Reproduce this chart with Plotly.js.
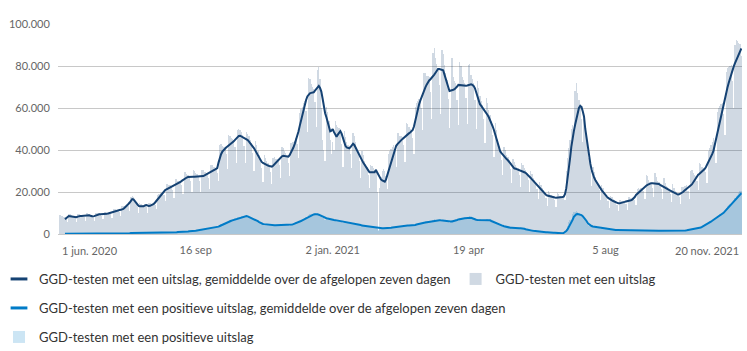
<!DOCTYPE html>
<html>
<head>
<meta charset="utf-8">
<script src="https://cdn.plot.ly/plotly-3.0.1.min.js"></script>
<style>
html,body{margin:0;padding:0;background:#ffffff;}
#chart{width:747px;height:351px;}
</style>
</head>
<body>
<div id="chart"></div>
<script>
// ---- data (values in thousands of tests per day, one per day from START_DATE) ----
const START_DATE = '2020-06-01';

const totalDailyK = [
9.0,8.8,8.5,8.3,8.2,7.4,5.9, 9.6,9.4,8.9,8.5,8.3,7.4,5.9, 9.3,9.5,9.1,8.9,8.9,8.0,6.4, 9.9,9.8,9.4,9.0,8.6,7.6,6.3,
9.9,9.9,9.8,9.8,9.6,8.6,7.0, 10.6,10.5,10.2,10.2,10.2,9.5,7.8, 12.0,12.0,11.7,11.5,11.5,10.5,8.5, 13.1,13.2,13.3,13.5,13.9,13.2,11.1,
17.7,18.3,17.5,16.2,14.9,12.8,9.9, 14.8,14.4,13.8,13.7,13.9,12.7,10.1, 14.9,14.7,14.4,14.4,14.6,13.8,11.7, 18.6,19.1,19.3,19.6,19.9,18.6,15.5,
23.9,23.8,23.2,23.1,23.0,21.0,17.1, 26.1,26.0,25.4,25.4,25.3,23.3,19.1, 29.3,29.3,28.5,28.3,27.8,25.1,20.2, 30.6,30.0,28.9,28.4,27.8,25.1,20.2,
30.6,30.4,29.6,29.3,29.1,26.5,21.5, 32.9,32.8,32.0,31.8,31.6,28.9,25.2, 42.5,42.8,42.0,41.6,41.4,37.9,30.9, 47.2,46.8,45.6,45.3,45.0,41.2,33.7,
49.5,49.8,49.6,48.4,47.1,42.1,33.6, 48.5,47.5,46.6,45.0,43.4,38.4,30.2, 44.5,42.4,39.5,37.5,35.7,31.6,25.0, 37.4,36.4,34.9,33.9,33.0,29.6,23.8,
36.4,36.5,35.9,35.9,35.9,32.9,26.9, 41.4,40.9,39.3,38.5,37.6,33.9,27.8, 43.1,43.8,43.7,44.5,45.5,42.8,36.1, 57.7,59.7,60.4,62.2,63.2,58.7,48.5,
74.5,73.7,71.2,70.0,68.9,62.8,51.1, 78.3,79.5,73.7,60.0,45.0,40.0,35.0, 60.5,58.0,54.0,45.0,38.0,44.0,40.0, 54.0,52.0,51.0,50.5,49.5,43.0,32.0,
49.1,46.2,43.7,42.5,41.6,38.1,31.3, 48.2,46.6,43.6,41.3,39.1,34.6,26.9, 39.4,37.4,34.9,33.3,31.7,27.9,21.8, 32.9,32.3,31.2,30.6,31.1,20.0,1.5,
22.0,27.0,30.0,31.0,30.0,27.5,21.5, 38.0,39.5,40.5,41.5,42.5,39.5,32.0, 47.9,48.0,46.7,46.5,46.2,42.2,34.5, 52.8,52.3,50.8,50.2,49.7,45.5,37.9,
60.5,62.5,63.4,64.2,64.8,60.1,49.6, 76.6,76.8,75.4,75.4,74.6,67.8,55.0, 86.0,88.5,84.0,81.0,79.0,71.0,57.0, 87.8,85.8,80.6,76.5,73.2,64.4,50.4,
60.0,84.0,75.0,73.0,72.0,64.0,52.0, 82.0,80.0,75.0,73.5,72.1,65.0,52.3, 80.5,81.0,75.6,73.8,71.9,63.9,49.8, 73.0,69.5,65.5,63.4,61.4,54.7,43.4,
64.6,62.4,58.9,56.5,53.9,47.2,36.6, 53.0,49.4,45.1,41.9,40.1,35.4,27.9, 41.3,39.9,37.8,36.5,35.2,30.9,24.3, 35.8,34.4,33.0,32.1,31.3,28.1,22.4,
33.6,32.7,31.2,30.3,29.2,25.7,20.2, 29.9,28.6,26.8,25.6,24.4,21.3,16.7, 24.6,23.5,21.9,20.9,19.8,17.2,13.5, 20.3,19.7,18.8,18.3,17.9,16.0,12.8,
19.4,19.0,18.3,18.2,18.0,17.5,16.0, 30.0,36.0,41.0,45.0,50.0,52.0,46.0, 68.0,72.0,67.0,64.0,62.0,55.0,44.0, 55.0,50.0,45.0,40.0,36.0,30.0,23.0,
31.7,29.5,27.1,25.5,24.0,20.8,16.1, 23.3,22.0,20.2,19.1,18.2,15.8,12.4, 18.3,17.6,16.6,16.0,15.5,13.7,10.8, 16.4,16.2,15.7,15.6,15.6,14.3,11.5,
17.7,17.5,17.1,17.1,17.2,16.2,13.8, 21.5,21.8,21.6,21.8,22.0,20.3,16.7, 28.0,27.5,25.5,25.0,24.5,22.0,17.5, 29.0,27.0,25.4,24.8,23.9,21.2,16.7,
26.5,24.5,23.0,22.3,21.4,19.0,15.1, 24.0,22.0,20.6,19.8,19.2,17.4,14.2, 22.5,22.5,22.8,23.0,23.2,20.5,16.8, 30.0,30.5,29.0,28.0,27.6,25.4,20.9,
34.0,33.5,32.0,31.3,31.5,29.3,24.4, 39.5,41.0,42.5,44.0,45.5,41.0,34.0, 58.0,60.0,61.0,62.0,62.5,57.0,47.0, 77.0,79.0,79.5,80.0,80.5,73.0,60.0,
90.0,92.5,92.0,91.0,90.5,85.0
];

const totalAvgK = [
null,null,null,null,7.0,7.6,8.3, 8.6,8.5,8.4,8.2,8.1,8.0,8.0, 8.3,8.6,8.6,8.6,8.7,8.7,8.7, 8.8,8.9,8.9,8.7,8.4,8.3,8.5,
8.8,9.0,9.2,9.4,9.4,9.4,9.5, 9.5,9.5,9.6,9.8,10.0,10.3,10.5, 10.7,10.9,11.0,11.1,11.3,11.4,11.5, 11.7,12.0,12.5,13.0,13.6,14.3,15.0,
15.8,16.6,16.5,15.6,14.6,13.9,13.4, 13.2,13.1,13.0,13.2,13.6,13.8,13.6, 13.3,13.4,13.6,13.8,14.3,15.0,15.8, 16.6,17.4,18.2,18.8,19.5,20.2,20.9,
21.3,21.6,21.9,22.2,22.5,22.8,23.1, 23.3,23.6,24.0,24.4,24.8,25.3,25.8, 26.2,26.6,26.9,27.2,27.3,27.3,27.3, 27.3,27.3,27.3,27.3,27.3,27.3,27.3,
27.3,27.6,27.9,28.2,28.5,28.8,29.1, 29.4,29.8,30.2,30.6,31.0,31.4,34.0, 36.5,38.0,39.2,40.0,40.6,41.2,41.7, 42.1,42.5,43.0,43.6,44.1,44.8,45.5,
46.1,46.7,46.8,46.5,46.2,45.8,45.4, 45.1,44.7,44.0,43.3,42.5,41.7,40.8, 39.7,38.5,37.3,36.1,35.0,34.3,33.8, 33.4,33.1,32.9,32.6,32.4,32.2,32.1,
32.5,33.2,33.9,34.5,35.2,35.8,36.4, 37.0,37.2,37.1,37.0,36.9,36.8,37.5, 38.5,39.8,41.2,42.8,44.6,46.5,48.8, 51.5,54.3,57.0,59.8,62.0,63.8,65.5,
66.5,67.0,67.2,67.3,67.5,68.3,69.1, 69.9,70.5,69.5,67.8,64.5,59.8,57.5, 55.6,53.5,51.0,48.9,49.2,50.0,48.5, 47.0,46.3,47.3,48.3,49.0,47.8,45.9,
43.8,42.0,41.2,40.9,40.8,41.4,42.3, 43.0,42.4,41.1,39.7,38.3,37.6,36.4, 35.2,34.0,32.9,32.0,31.1,30.3,29.4, 29.4,29.4,29.4,29.4,30.5,29.3,28.0,
26.5,26.0,25.5,25.1,24.9,26.0,28.1, 29.8,31.6,33.4,35.3,37.5,40.0,42.0, 42.8,43.6,44.1,44.7,45.3,45.9,46.6, 47.1,47.5,47.9,48.3,48.7,49.5,51.2,
54.0,56.8,59.8,61.7,63.5,65.3,67.0, 68.4,69.8,71.1,72.5,73.1,73.7,74.3, 75.0,75.9,76.8,77.7,78.6,78.6,78.5, 78.4,78.0,76.0,73.6,71.8,70.0,68.1,
68.2,68.5,68.7,69.0,69.5,70.2,71.0, 70.9,70.8,70.8,70.7,70.7,70.6,70.7, 70.9,71.1,71.3,71.0,70.5,69.5,67.3, 65.2,63.2,61.8,61.0,60.2,59.5,58.7,
57.7,56.7,55.6,54.3,52.8,51.3,49.5, 47.3,44.9,42.5,40.3,39.3,38.5,37.7, 36.9,36.3,35.7,35.1,34.5,33.6,32.8, 32.0,31.3,31.1,30.9,30.7,30.5,30.3,
30.0,29.7,29.4,29.1,28.6,27.9,27.3, 26.7,26.0,25.3,24.6,23.9,23.2,22.6, 22.0,21.4,20.7,20.1,19.4,18.7,18.3, 18.1,17.9,17.7,17.6,17.5,17.4,17.3,
17.3,17.3,17.3,17.5,17.6,17.8,19.0, 21.7,26.0,31.0,36.0,41.5,46.0,49.0, 52.0,55.0,57.5,60.0,61.0,60.5,58.5, 56.0,50.0,45.5,41.5,37.0,33.5,30.5,
28.3,26.8,25.6,24.5,23.5,22.6,21.7, 20.8,20.0,19.1,18.4,17.8,17.2,16.7, 16.3,16.0,15.7,15.4,15.2,14.9,14.6, 14.6,14.7,14.8,15.0,15.3,15.5,15.6,
15.8,15.9,16.1,16.4,16.9,17.6,18.6, 19.2,19.8,20.4,21.0,21.6,22.1,22.6, 23.0,23.4,23.8,24.1,24.2,24.2,24.1, 24.1,24.1,24.0,23.8,23.4,23.0,22.6,
22.3,22.0,21.7,21.4,21.0,20.7,20.4, 20.1,19.7,19.4,19.0,18.8,18.9,19.2, 19.5,20.0,20.6,21.2,21.8,22.3,22.7, 23.1,23.6,24.6,25.6,26.6,27.6,28.2,
28.7,29.2,29.7,30.1,30.9,31.8,33.0, 34.0,35.3,36.7,38.0,39.6,42.4,45.2, 48.2,51.2,54.2,57.0,59.5,62.0,64.6, 67.3,69.6,71.9,74.2,76.5,78.2,79.8,
81.4,82.9,84.3,85.7,87.1,88.4
];

const positiveDailyK = [
0.1,0.1,0.1,0.1,0.1,0.1,0.1, 0.1,0.1,0.1,0.1,0.1,0.1,0.1, 0.1,0.1,0.1,0.1,0.1,0.1,0.1, 0.1,0.1,0.1,0.1,0.1,0.1,0.1,
0.1,0.1,0.1,0.1,0.1,0.1,0.1, 0.1,0.2,0.2,0.2,0.2,0.2,0.1, 0.2,0.3,0.3,0.3,0.3,0.3,0.2, 0.3,0.4,0.4,0.4,0.4,0.4,0.3,
0.5,0.6,0.6,0.5,0.5,0.5,0.4, 0.5,0.6,0.5,0.5,0.5,0.5,0.4, 0.5,0.6,0.6,0.6,0.6,0.6,0.5, 0.6,0.7,0.7,0.6,0.6,0.6,0.5,
0.7,0.7,0.7,0.7,0.7,0.7,0.6, 0.9,1.0,1.0,1.0,1.0,1.1,0.9, 1.2,1.3,1.3,1.3,1.4,1.4,1.2, 1.6,1.8,1.8,1.9,1.9,1.9,1.6,
2.2,2.3,2.3,2.4,2.5,2.5,2.2, 2.9,3.0,3.0,3.2,3.4,3.6,3.3, 4.2,4.6,4.8,5.1,5.4,5.8,5.3, 6.3,6.6,6.7,7.0,7.2,7.4,6.6,
8.0,8.2,8.0,8.4,8.6,8.8,7.9, 9.0,8.5,7.9,7.6,7.4,7.2,6.7, 6.6,6.1,5.7,5.3,5.0,4.8,4.4, 4.6,4.6,4.5,4.4,4.3,4.2,3.9,
4.3,4.4,4.3,4.3,4.2,4.2,3.9, 4.3,4.4,4.3,4.3,4.3,4.2,4.0, 4.7,4.9,5.0,5.2,5.5,5.8,5.4, 6.4,6.8,7.0,7.3,7.6,8.0,7.6,
8.9,9.3,9.5,9.6,9.7,9.8,9.3, 9.7,9.6,9.0,8.6,7.8,7.4,6.8, 7.3,7.3,7.1,6.9,6.5,6.7,6.0, 6.6,6.6,6.4,6.1,5.9,5.7,5.1,
5.6,5.6,5.4,5.2,5.1,5.0,4.6, 4.9,4.9,4.8,4.6,4.5,4.3,3.9, 4.0,4.0,3.8,3.7,3.6,3.4,3.1, 3.4,3.4,3.3,3.1,3.0,2.6,1.8,
2.4,2.8,3.0,2.9,2.8,2.7,2.5, 3.0,3.1,3.2,3.3,3.3,3.4,3.1, 3.7,3.8,3.8,3.9,3.9,3.9,3.6, 4.1,4.2,4.1,4.1,4.1,4.2,3.9,
4.6,4.8,5.0,5.1,5.2,5.4,5.0, 5.8,6.0,6.0,6.1,6.1,6.2,5.8, 6.8,7.0,6.9,6.9,6.8,6.6,6.0, 6.9,6.9,6.6,6.4,6.2,5.8,5.2,
5.6,6.6,6.4,6.5,6.6,6.8,6.4, 7.6,7.8,7.6,7.6,7.6,7.6,7.1, 8.3,8.4,8.0,7.7,7.3,6.9,6.3, 7.2,7.3,7.0,6.8,6.7,6.5,6.1,
7.1,7.2,6.9,6.5,6.1,5.7,5.1, 5.7,5.6,5.2,4.8,4.4,4.0,3.5, 3.9,3.8,3.4,3.2,3.1,2.9,2.7, 3.1,3.1,2.9,2.8,2.8,2.6,2.4,
2.8,2.8,2.5,2.3,2.1,1.8,1.6, 1.8,1.7,1.5,1.4,1.3,1.1,1.0, 1.1,1.1,0.9,0.9,0.8,0.8,0.7, 0.8,0.8,0.7,0.6,0.6,0.6,0.5,
0.5,0.5,0.4,0.4,0.4,0.9,1.5, 2.5,4.0,5.5,6.5,7.0,9.5,10.5, 10.5,11.0,10.5,10.0,9.5,9.0,8.0, 7.5,6.0,5.0,4.5,4.0,3.8,3.3,
3.6,3.5,3.3,3.1,3.0,2.9,2.6, 2.7,2.7,2.5,2.4,2.3,2.2,1.9, 2.1,2.1,2.0,1.9,1.9,1.9,1.7, 2.0,2.0,1.9,1.9,1.9,1.9,1.7,
2.0,2.0,1.9,1.9,1.9,1.9,1.7, 2.0,2.0,1.9,1.9,1.9,1.9,1.7, 2.0,2.0,1.9,1.9,1.9,1.9,1.7, 1.9,1.8,1.7,1.6,1.5,1.5,1.3,
1.5,1.5,1.4,1.4,1.4,1.4,1.2, 1.5,1.5,1.4,1.4,1.4,1.4,1.2, 1.6,1.7,1.7,1.8,1.9,2.0,1.8, 2.3,2.4,2.4,2.5,2.6,2.7,2.5,
3.3,3.5,3.7,4.0,4.4,4.8,4.6, 5.8,6.1,6.3,6.6,7.0,7.4,7.0, 8.6,9.0,9.3,9.6,10.1,10.7,10.3, 12.5,13.2,13.7,14.2,14.8,15.4,14.8,
17.3,18.0,18.6,19.4,20.4,20.5
];

const positiveAvgK = [
null,null,null,null,0.1,0.1,0.1, 0.1,0.1,0.1,0.1,0.1,0.1,0.1, 0.1,0.1,0.1,0.1,0.1,0.1,0.1, 0.1,0.1,0.1,0.1,0.1,0.1,0.1,
0.1,0.1,0.1,0.1,0.1,0.1,0.1, 0.1,0.1,0.1,0.2,0.2,0.2,0.2, 0.2,0.2,0.2,0.2,0.2,0.3,0.3, 0.3,0.3,0.3,0.3,0.4,0.4,0.4,
0.5,0.5,0.5,0.5,0.5,0.5,0.5, 0.5,0.5,0.5,0.5,0.5,0.5,0.5, 0.5,0.5,0.5,0.5,0.5,0.6,0.6, 0.6,0.6,0.6,0.6,0.6,0.6,0.6,
0.6,0.6,0.6,0.7,0.7,0.7,0.7, 0.8,0.8,0.9,0.9,1.0,1.0,1.0, 1.1,1.1,1.2,1.2,1.3,1.3,1.4, 1.4,1.5,1.6,1.7,1.8,1.8,1.9,
2.0,2.0,2.1,2.2,2.3,2.4,2.5, 2.6,2.7,2.8,2.9,3.1,3.3,3.5, 3.8,4.1,4.4,4.7,5.0,5.4,5.6, 5.8,6.0,6.3,6.5,6.7,6.9,7.1,
7.3,7.4,7.5,7.8,8.1,8.4,8.6, 8.6,8.4,8.1,7.8,7.6,7.5,7.3, 6.9,6.5,6.1,5.7,5.3,5.0,4.8, 4.7,4.6,4.5,4.4,4.3,4.2,4.2,
4.2,4.2,4.2,4.2,4.2,4.2,4.2, 4.2,4.2,4.2,4.2,4.2,4.2,4.2, 4.3,4.5,4.7,4.9,5.2,5.5,5.7, 5.9,6.2,6.5,6.8,7.1,7.5,7.9,
8.3,8.6,8.9,9.1,9.3,9.4,9.5, 9.4,9.2,8.9,8.6,8.2,7.9,7.7, 7.5,7.4,7.2,7.1,7.0,6.8,6.7, 6.6,6.5,6.4,6.2,6.0,5.8,5.7,
5.6,5.5,5.4,5.3,5.2,5.1,5.0, 4.9,4.8,4.8,4.7,4.6,4.5,4.3, 4.0,3.9,3.8,3.7,3.6,3.5,3.4, 3.3,3.2,3.2,3.1,3.0,2.9,2.8,
2.8,2.7,2.7,2.7,2.7,2.7,2.8, 2.8,2.9,3.0,3.1,3.2,3.3,3.4, 3.5,3.6,3.7,3.8,3.8,3.9,3.9, 3.9,4.0,4.0,4.0,4.0,4.1,4.2,
4.3,4.5,4.7,4.9,5.0,5.2,5.3, 5.4,5.5,5.6,5.8,5.9,6.0,6.2, 6.3,6.4,6.6,6.7,6.7,6.6,6.5, 6.4,6.4,6.3,6.2,6.1,6.0,5.9,
5.9,6.0,6.1,6.3,6.5,6.7,6.9, 7.1,7.2,7.3,7.4,7.5,7.6,7.7, 7.8,7.8,7.7,7.5,7.2,7.0,6.8, 6.7,6.7,6.7,6.7,6.7,6.7,6.7,
6.7,6.7,6.7,6.5,6.2,5.9,5.6, 5.4,5.2,5.1,4.8,4.5,4.2,3.9, 3.7,3.5,3.3,3.2,3.1,3.0,3.0, 2.9,2.9,2.8,2.8,2.8,2.7,2.7,
2.7,2.7,2.5,2.3,2.1,1.9,1.8, 1.7,1.6,1.5,1.4,1.3,1.2,1.1, 1.0,1.0,0.9,0.9,0.8,0.8,0.8, 0.7,0.7,0.7,0.6,0.6,0.6,0.5,
0.5,0.4,0.4,0.4,0.3,0.5,0.9, 1.4,2.2,3.2,4.2,5.1,6.7,8.2, 8.9,9.4,9.5,9.4,9.2,9.0,8.5, 7.8,7.0,6.2,5.1,4.5,4.1,3.8,
3.6,3.5,3.3,3.1,3.0,2.9,2.8, 2.7,2.6,2.5,2.4,2.3,2.2,2.1, 2.1,2.0,2.0,1.9,1.9,1.9,1.9, 1.9,1.9,1.9,1.9,1.9,1.9,1.9,
1.9,1.9,1.9,1.9,1.9,1.9,1.9, 1.9,1.9,1.9,1.9,1.9,1.9,1.9, 1.9,1.9,1.9,1.9,1.9,1.9,1.9, 1.9,1.8,1.7,1.6,1.5,1.5,1.4,
1.4,1.4,1.4,1.4,1.4,1.4,1.4, 1.4,1.4,1.4,1.4,1.4,1.4,1.4, 1.4,1.5,1.6,1.7,1.8,1.9,2.0, 2.1,2.2,2.3,2.4,2.5,2.6,2.7,
2.9,3.1,3.4,3.7,4.1,4.5,4.9, 5.3,5.6,5.9,6.3,6.7,7.1,7.5, 7.9,8.3,8.7,9.0,9.5,10.1,10.8, 11.5,12.2,12.9,13.5,14.0,14.6,15.2,
15.9,16.6,17.3,18.0,18.7,19.4
];

const tickDates  = ['2020-06-01','2020-09-16','2021-01-02','2021-04-19','2021-08-05','2021-11-20'];
const tickLabels = ['1 jun. 2020','16 sep','2 jan. 2021','19 apr','5 aug','20 nov. 2021'];
const yTicks = [0, 20000, 40000, 60000, 80000, 100000];

const seriesNames = [
  'GGD-testen met een uitslag, gemiddelde over de afgelopen zeven dagen',
  'GGD-testen met een uitslag',
  'GGD-testen met een positieve uitslag, gemiddelde over de afgelopen zeven dagen',
  'GGD-testen met een positieve uitslag'
];

// ---- build ----
function buildDates(start, n) {
  const p = start.split('-').map(Number);
  const t0 = Date.UTC(p[0], p[1] - 1, p[2]);
  const out = [];
  for (let i = 0; i < n; i++) out.push(new Date(t0 + i * 86400000).toISOString().slice(0, 10));
  return out;
}
const dates = buildDates(START_DATE, totalDailyK.length);
const k = v => (v === null ? null : v * 1000);

const DARK = '#154273';
const BLUE = '#007bc7';
const FONT = 'Lato, "Liberation Sans", Arial, sans-serif';

const traces = [
  { type: 'bar', x: dates, y: totalDailyK.map(k), name: seriesNames[1],
    marker: { color: 'rgba(21,66,115,0.2)', line: { width: 0 } },
    legend: 'legend', legendrank: 2, hoverinfo: 'skip' },
  { type: 'bar', x: dates, y: positiveDailyK.map(k), name: seriesNames[3],
    marker: { color: 'rgba(0,123,199,0.2)', line: { width: 0 } },
    legend: 'legend3', hoverinfo: 'skip' },
  { type: 'scatter', mode: 'lines', x: dates, y: totalAvgK.map(k), name: seriesNames[0],
    line: { color: DARK, width: 2 }, showlegend: false, hoverinfo: 'skip' },
  { type: 'scatter', mode: 'lines', x: dates, y: positiveAvgK.map(k), name: seriesNames[2],
    line: { color: BLUE, width: 2 }, showlegend: false, hoverinfo: 'skip' },
  // legend swatches for the two lines (short line symbols)
  { type: 'scatter', mode: 'markers', x: [null], y: [null], name: seriesNames[0],
    marker: { symbol: 'line-ew', size: 12, color: DARK, line: { color: DARK, width: 3 } },
    legend: 'legend', legendrank: 1, hoverinfo: 'skip' },
  { type: 'scatter', mode: 'markers', x: [null], y: [null], name: seriesNames[2],
    marker: { symbol: 'line-ew', size: 12, color: BLUE, line: { color: BLUE, width: 3 } },
    legend: 'legend2', hoverinfo: 'skip' }
];

const plotL = 58, plotW = 684, plotT = 24, plotH = 210;
const legX = (-1 - plotL) / plotW;
const rowY = px => (plotT + plotH - px) / plotH;
const legendBase = {
  orientation: 'h', xref: 'paper', yref: 'paper', x: legX, xanchor: 'left', yanchor: 'middle',
  font: { family: FONT, size: 13, color: '#333333' }, bgcolor: 'rgba(0,0,0,0)', traceorder: 'normal',
  itemclick: false, itemdoubleclick: false
};

const annFont = { family: FONT, size: 11, color: '#666666' };

const layout = {
  width: 747, height: 351,
  margin: { l: plotL, r: 747 - plotL - plotW, t: plotT, b: 351 - plotT - plotH, autoexpand: false },
  paper_bgcolor: '#ffffff', plot_bgcolor: '#ffffff',
  separators: ',.',
  barmode: 'overlay', bargap: 0, bargroupgap: 0,
  font: { family: FONT, size: 11, color: '#666666' },
  xaxis: {
    type: 'date',
    range: ['2020-05-30 12:00', '2021-11-20 12:00'],
    tickmode: 'array',
    tickvals: tickDates.slice(1, -1),
    ticktext: tickLabels.slice(1, -1),
    showgrid: false, zeroline: false, showline: false,
    ticks: 'outside', ticklen: 6, tickcolor: 'rgba(0,0,0,0)',
    tickfont: { family: FONT, size: 11, color: '#666666' },
    fixedrange: true
  },
  yaxis: {
    range: [0, 100000],
    tickmode: 'array', tickvals: yTicks, tickformat: ',d',
    showgrid: true, gridcolor: '#c8c8c8', gridwidth: 1,
    zeroline: true, zerolinecolor: '#c8c8c8', zerolinewidth: 1,
    showline: false,
    ticks: 'outside', ticklen: 5, tickcolor: 'rgba(0,0,0,0)',
    tickfont: { family: FONT, size: 11, color: '#666666' },
    fixedrange: true
  },
  legend:  Object.assign({}, legendBase, { y: rowY(279) }),
  legend2: Object.assign({}, legendBase, { y: rowY(308) }),
  legend3: Object.assign({}, legendBase, { y: rowY(337) }),
  annotations: [
    { xref: 'x', yref: 'paper', x: tickDates[0], y: 0, xanchor: 'left', yanchor: 'top', yshift: -8,
      text: tickLabels[0], showarrow: false, font: annFont },
    { xref: 'x', yref: 'paper', x: tickDates[tickDates.length - 1], y: 0, xanchor: 'right', yanchor: 'top', yshift: -8,
      text: tickLabels[tickLabels.length - 1], showarrow: false, font: annFont }
  ],
  showlegend: true,
  hovermode: false
};

Plotly.newPlot('chart', traces, layout, { displayModeBar: false, staticPlot: true });
</script>
</body>
</html>
